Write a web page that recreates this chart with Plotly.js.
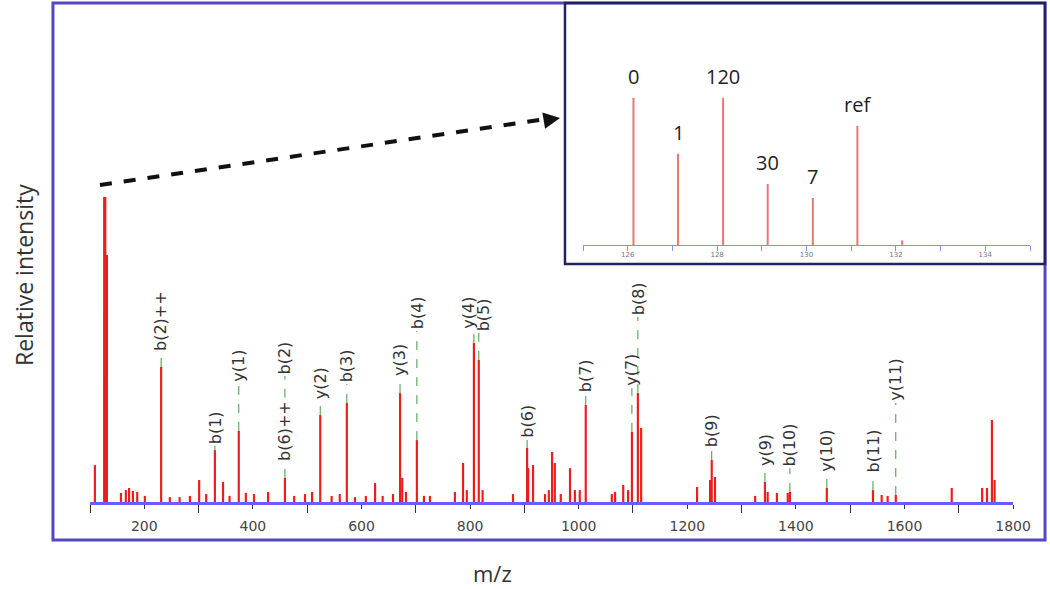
<!DOCTYPE html>
<html><head><meta charset="utf-8">
<script src="https://cdn.plot.ly/plotly-3.0.1.min.js"></script>
<style>html,body{margin:0;padding:0;background:#fff;}#chart{width:1050px;height:589px;}</style>
</head><body><div id="chart"></div>
<script>
// ---- main MS/MS spectrum (m/z, relative intensity %) ----
const peakMz = [
  109,
  126.13, 127.12, 128.13, 129.13, 130.14, 131.14,
  157, 166, 172, 179, 187, 201,
  231, 247, 265, 284, 301, 314,
  330, 345, 357, 374, 387, 402,
  428, 459, 476, 496, 509, 524,
  545, 560, 573, 588, 608, 625,
  639, 658, 671, 675, 682, 702,
  715, 726, 772, 787, 794, 807,
  816, 823, 879, 905, 907, 916,
  938, 945, 951, 956, 967, 984,
  993, 1002, 1013, 1061, 1067, 1082,
  1091, 1098, 1109, 1115, 1218, 1242,
  1245, 1251, 1325, 1343, 1348, 1365,
  1385, 1389, 1457, 1542, 1558, 1569,
  1584, 1687, 1743, 1752, 1761, 1766
];
const peakIntensity = [
  12.1,
  100, 62, 100, 41.5, 32, 81,
  3.0, 3.9, 4.6, 3.6, 3.3, 2.0,
  44.3, 1.6, 1.6, 2.0, 7.2, 2.6,
  17.0, 6.6, 2.0, 23.3, 3.0, 2.6,
  3.3, 7.9, 2.0, 2.6, 3.3, 28.5,
  2.0, 2.6, 32.5, 1.6, 2.0, 6.2,
  2.0, 2.6, 35.7, 7.9, 3.3, 20.3,
  2.0, 2.0, 3.3, 12.8, 3.9, 52.1,
  46.6, 3.9, 2.6, 17.7, 11.1, 12.1,
  2.6, 3.9, 16.4, 12.8, 2.6, 11.1,
  3.9, 3.9, 31.8, 2.6, 3.3, 5.6,
  3.9, 23.0, 35.7, 24.3, 4.9, 7.2,
  13.8, 8.2, 2.0, 6.6, 3.3, 3.0,
  3.0, 3.3, 4.6, 3.9, 2.3, 2.0,
  2.3, 4.6, 4.6, 4.6, 26.9, 7.2
];

// ---- fragment ion annotations ----
const ionNames = ['b(2)++','b(1)','y(1)','b(6)++','b(2)','y(2)','b(3)','y(3)','b(4)','y(4)','b(5)',
                  'b(6)','b(7)','y(7)','b(8)','b(9)','y(9)','b(10)','y(10)','b(11)','y(11)'];
const ionMz = [231,330,374,459,459,524,573,671,702,807,816,905,1013,1098,1109,1245,1343,1389,1457,1542,1584];
const ionPeakIntensity = [44.3,17.0,23.3,7.9,7.9,28.5,32.5,35.7,20.3,52.1,46.6,17.7,31.8,23.0,35.7,13.8,6.6,3.3,4.6,3.9,2.3];
const ionLabelBase = [48.9,18.4,38.7,12.8,41.3,33.1,38.7,40.7,56.1,56.1,55.4,20.3,35.4,37.4,60.7,17.4,11.1,11.1,9.2,9.2,32.5];

// ---- TMT reporter ion inset ----
const insetMz = [126.128, 127.125, 128.134, 129.131, 130.141, 131.138, 132.14];
const insetIntensity = [100, 62, 100, 41.5, 32, 81, 3];
const insetLabels = ['0', '1', '120', '30', '7', 'ref', ''];
const insetTickVals = [126, 128, 130, 132, 134];
const insetTickText = ['126', '128', '130', '132', '134'];

// ---- axis ranges ----
const mainXRange = [100, 1800];
const mainYRange = [0, 161.3];
const insetXRange = [125, 135];
const insetYRange = [0, 153];

const PLOT_W = 923, PLOT_H = 492; // px size of main plot area
const pxPerUnitY = PLOT_H / (mainYRange[1] - mainYRange[0]);
const pxPerUnitX = PLOT_W / (mainXRange[1] - mainXRange[0]);
const CHAR_PX = 10.2;

const traces = [
  {
    type: 'bar', x: peakMz, y: peakIntensity, width: 4,
    marker: {color: '#ee1c1c', line: {width: 0}},
    xaxis: 'x', yaxis: 'y', hoverinfo: 'x+y'
  },
  {
    type: 'bar', x: insetMz, y: insetIntensity, width: 0.045,
    marker: {color: '#e87878', line: {width: 0}},
    xaxis: 'x2', yaxis: 'y2', hoverinfo: 'x+y'
  }
];

const shapes = [];
const annotations = [];

// separate labels that would sit on top of each other
const labelShift = ionNames.map(() => 0);
const labelTop = ionNames.map((n, i) => ionLabelBase[i] + (n.length * CHAR_PX + 4) / pxPerUnitY);
for (let i = 0; i < ionNames.length; i++) {
  for (let j = i + 1; j < ionNames.length; j++) {
    const dpx = (ionMz[j] - ionMz[i]) * pxPerUnitX;
    const overlapV = ionLabelBase[i] < labelTop[j] && ionLabelBase[j] < labelTop[i];
    if (overlapV && Math.abs(dpx) < 15) {
      const need = (15 - Math.abs(dpx)) / 2;
      labelShift[i] -= need; labelShift[j] += need;
    }
  }
}

// label texts and dashed stems
ionNames.forEach((name, i) => {
  annotations.push({
    x: ionMz[i], y: ionLabelBase[i], xref: 'x', yref: 'y', xshift: labelShift[i],
    text: name, textangle: -90, showarrow: false,
    xanchor: 'center', yanchor: 'bottom',
    font: {family: 'DejaVu Sans, sans-serif', size: 16, color: '#333'}
  });
  let lower = ionPeakIntensity[i];
  ionNames.forEach((other, j) => {
    if (j !== i && ionMz[j] === ionMz[i] && ionLabelBase[j] < ionLabelBase[i]) {
      if (labelTop[j] > lower) lower = labelTop[j];
    }
  });
  if (ionLabelBase[i] > lower) {
    shapes.push({
      type: 'line', xref: 'x', yref: 'y',
      x0: ionMz[i], x1: ionMz[i], y0: lower, y1: ionLabelBase[i],
      line: {color: '#3f9a3f', width: 1, dash: 'dash'}
    });
  }
});

// inset labels
insetLabels.forEach((lab, i) => {
  if (!lab) return;
  annotations.push({
    x: insetMz[i], y: insetIntensity[i], xref: 'x2', yref: 'y2',
    text: lab, showarrow: false, xanchor: 'center', yanchor: 'bottom', yshift: 6,
    font: {family: 'Open Sans, sans-serif', size: 20, color: '#222'}
  });
});

// outer frame
shapes.push({type: 'rect', xref: 'paper', yref: 'paper',
  x0: -0.0394, x1: 1.016, y0: -0.0772, y1: 1.0142,
  line: {color: '#5546c4', width: 3}, fillcolor: 'rgba(0,0,0,0)'});
// inset frame
shapes.push({type: 'rect', xref: 'paper', yref: 'paper',
  x0: 0.5053, x1: 1.016, y0: 0.4837, y1: 1.0142,
  line: {color: '#22225e', width: 2.5}, fillcolor: 'rgba(0,0,0,0)'});
// dashed zoom arrow
shapes.push({type: 'line', xref: 'paper', yref: 'paper',
  x0: 0.0106, y0: 0.6443, x1: 0.486, y1: 0.7787,
  line: {color: '#111', width: 4, dash: 'dash'}});
annotations.push({
  x: 0.5, y: 0.7805, xref: 'paper', yref: 'paper', text: '',
  showarrow: true, arrowhead: 2, arrowsize: 1.1, arrowwidth: 3, arrowcolor: '#111',
  ax: -12, ay: 2
});

// axis titles
annotations.push({
  x: 0.4277, y: -0.144, xref: 'paper', yref: 'paper', text: 'm/z', showarrow: false,
  xanchor: 'center', yanchor: 'middle', borderpad: 0,
  font: {family: 'Open Sans, sans-serif', size: 22, color: '#333'}
});
annotations.push({
  x: -0.0702, y: 0.4614, xref: 'paper', yref: 'paper', text: 'Relative intensity', showarrow: false,
  textangle: -90, xanchor: 'center', yanchor: 'middle',
  font: {family: 'Open Sans, sans-serif', size: 23, color: '#333'}
});

const layout = {
  width: 1050, height: 589,
  margin: {l: 90, r: 20, t: 10, b: 87, pad: 0},
  paper_bgcolor: '#fff', plot_bgcolor: 'rgba(0,0,0,0)',
  showlegend: false, barmode: 'overlay',
  xaxis: {
    domain: [0, 0.982], range: mainXRange, anchor: 'y',
    showline: true, linecolor: '#6b5cff', linewidth: 3,
    showgrid: false, zeroline: false,
    ticks: 'outside', ticklen: 4, tickwidth: 1, tickcolor: '#333',
    tick0: 0, dtick: 200, ticklabelstandoff: 5,
    minor: {dtick: 100, tick0: 0, ticks: 'outside', ticklen: 8, tickwidth: 1, tickcolor: '#333'},
    tickfont: {family: 'DejaVu Sans, sans-serif', size: 14, color: '#444'}
  },
  yaxis: {
    domain: [0, 1], range: mainYRange, anchor: 'x',
    showline: false, showgrid: false, zeroline: false, showticklabels: false, ticks: ''
  },
  xaxis2: {
    domain: [0.5245, 1], range: insetXRange, anchor: 'y2',
    showline: true, linecolor: '#8c8cff', linewidth: 1.5,
    showgrid: false, zeroline: false,
    tickvals: insetTickVals, ticktext: insetTickText,
    ticks: 'outside', ticklen: 2, tickwidth: 1, tickcolor: '#8c8cff',
    minor: {dtick: 1, tick0: 0, ticks: 'outside', ticklen: 5, tickwidth: 1, tickcolor: '#8c8cff'},
    tickfont: {family: 'DejaVu Sans, sans-serif', size: 7, color: '#777'}
  },
  yaxis2: {
    domain: [0.5224, 0.98], range: insetYRange, anchor: 'x2',
    showline: false, showgrid: false, zeroline: false, showticklabels: false, ticks: ''
  },
  shapes: shapes,
  annotations: annotations
};

Plotly.newPlot('chart', traces, layout, {displayModeBar: false, staticPlot: true});
</script>
</body></html>
